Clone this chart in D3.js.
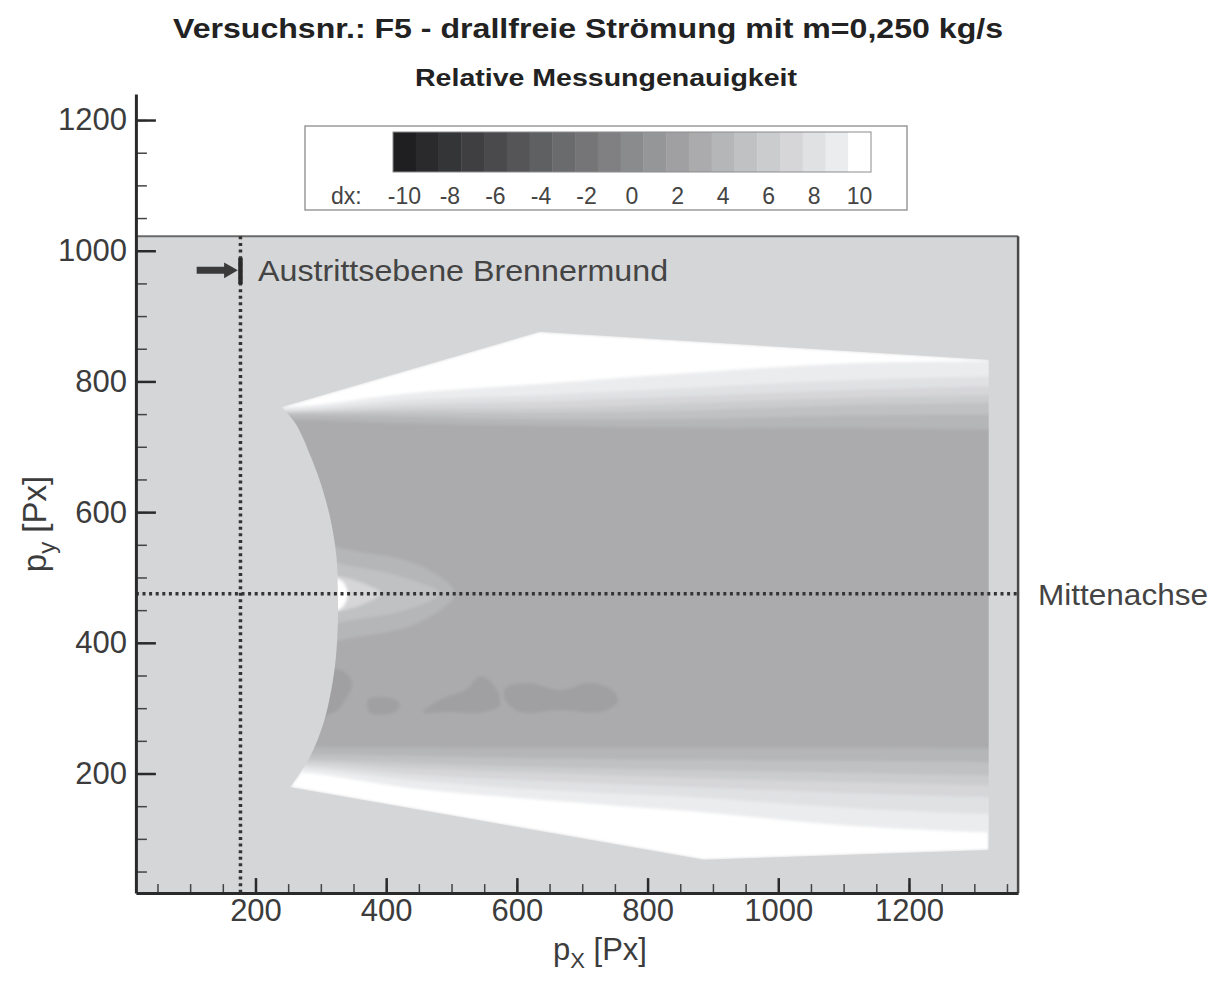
<!DOCTYPE html>
<html>
<head>
<meta charset="utf-8">
<script src="https://cdn.jsdelivr.net/npm/d3@7"></script>
<style>
  body { margin: 0; background: #fff; }
  text { font-family: Arial, "Liberation Sans", sans-serif; }
</style>
</head>
<body>
<svg id="chart" width="1218" height="983"></svg>
<script>
var xTicks = [200, 400, 600, 800, 1000, 1200];
var yTicks = [200, 400, 600, 800, 1000, 1200];
var minorTicksX = d3.range(50, 1400, 50);
var minorTicksY = d3.range(50, 1250, 50);
var legendLevels = d3.range(-10, 11);
var legendTicks = [-10, -8, -6, -4, -2, 0, 2, 4, 6, 8, 10];

// outline of measured region (straight part) and the curved window edge
var envX = [240, 635, 1322, 1322, 886, 253];
var envY = [761, 876, 833, 83, 68, 179];
var arcX = [253, 283, 304, 316, 323, 326, 326, 324, 316, 303, 285, 261, 240];
var arcY = [179, 225, 277, 328, 378, 430, 481, 531, 583, 634, 684, 736, 761];

// contour bands: upper and lower limits of each level, sampled at bandX
var bandX = [115, 268, 436, 635, 880, 1110, 1340];
var bandLevels = [9, 8, 7, 6, 5, 4, 3];
var bandTop = [
  [759, 762, 782, 796, 814, 828, 831],
  [756, 758, 772, 779, 791, 802, 808],
  [753, 755, 764, 769, 778, 787, 793],
  [752, 753, 758, 759, 767, 775, 779],
  [750, 752, 753, 752, 756, 764, 767],
  [747, 748, 746, 742, 743, 748, 749],
  [741, 741, 736, 732, 729, 729, 726]];
var bandBottom = [
  [202, 202, 178, 160, 141, 120, 109],
  [208, 208, 190, 175, 163, 147, 137],
  [213, 213, 199, 189, 179, 170, 163],
  [218, 218, 208, 201, 193, 187, 181],
  [222, 222, 216, 210, 205, 201, 196],
  [230, 230, 227, 223, 221, 219, 217],
  [240, 240, 240, 239, 239, 239, 238]];

// light core on the axis behind the window
var fishLevels = [4, 5, 7, 10];
var fishX = [
  [268, 360, 452, 505, 452, 360, 268],
  [268, 360, 436, 482, 436, 360, 268],
  [268, 335, 372, 392, 372, 335, 268],
  [268, 330, 341, 330, 268]];
var fishY = [
  [545, 539, 518, 476, 432, 410, 404],
  [522, 515, 497, 476, 452, 437, 430],
  [505, 500, 488, 476, 462, 450, 445],
  [500, 496, 475, 452, 448]];

// darker spots below the axis
var blobLevel = 2;
var blobX = [
  [296, 337, 348, 337, 322, 296],
  [372, 398, 421, 414, 375],
  [456, 482, 521, 544, 566, 574, 544, 498],
  [582, 620, 666, 712, 746, 755, 727, 666, 605, 582]];
var blobY = [
  [358, 355, 335, 312, 294, 290],
  [313, 317, 308, 294, 293],
  [294, 313, 328, 349, 334, 305, 293, 294],
  [331, 338, 328, 339, 328, 310, 294, 297, 294, 313]];

var centerAxisY = 475;
var exitPlaneX = 177;

// ---- setup ----
var svg = d3.select("#chart");

var x = d3.scaleLinear().domain([17, 1367]).range([135.9, 1018.1]);
var y = d3.scaleLinear().domain([17, 1240]).range([893.1, 93.9]);
var frameTop = 1022;

var color = d3.scaleLinear()
  .domain([-10, 9, 10])
  .range(["#1f1f21", "#ebecee", "#ffffff"]);

var smoothLine = d3.line().x(d => x(d[0])).y(d => y(d[1])).curve(d3.curveCatmullRom.alpha(0.5));
var straightLine = d3.line().x(d => x(d[0])).y(d => y(d[1]));
var closedLine = d3.line().x(d => x(d[0])).y(d => y(d[1])).curve(d3.curveCatmullRomClosed.alpha(0.5));

function joinPaths(a, b) {
  return a + "L" + b.slice(1) + "Z";
}
function zip(xs, ys) {
  return xs.map((v, i) => [v, ys[i]]);
}

var defs = svg.append("defs");
var envPath = joinPaths(straightLine(zip(envX, envY)), smoothLine(zip(arcX, arcY)));
defs.append("clipPath").attr("id", "env").append("path").attr("d", envPath);
defs.append("filter").attr("id", "soft")
  .attr("x", "-5%").attr("y", "-5%").attr("width", "110%").attr("height", "110%")
  .append("feGaussianBlur").attr("stdDeviation", 1.4);

// frame background
svg.append("rect")
  .attr("x", x(17)).attr("y", y(frameTop))
  .attr("width", x(1367) - x(17)).attr("height", y(17) - y(frameTop))
  .style("fill", "#d5d6d8");

// contour field
var field = svg.append("g").attr("clip-path", "url(#env)")
  .append("g").attr("filter", "url(#soft)");

field.append("path").attr("d", envPath).style("fill", color(10));

bandLevels.forEach((lev, k) => {
  var upper = zip(bandX, bandTop[k]);
  var lower = zip(bandX, bandBottom[k]).reverse();
  field.append("path")
    .attr("d", joinPaths(smoothLine(upper), smoothLine(lower)))
    .style("fill", color(lev));
});

fishLevels.forEach((lev, k) => {
  field.append("path")
    .attr("d", closedLine(zip(fishX[k], fishY[k])))
    .style("fill", color(lev));
});

blobX.forEach((bx, k) => {
  field.append("path")
    .attr("d", closedLine(zip(bx, blobY[k])))
    .style("fill", color(blobLevel));
});

// frame lines top / right
svg.append("line")
  .attr("x1", x(17)).attr("x2", x(1367)).attr("y1", y(frameTop)).attr("y2", y(frameTop))
  .style("stroke", "#6a6a6a").style("stroke-width", 2);
svg.append("line")
  .attr("x1", x(1367)).attr("x2", x(1367)).attr("y1", y(frameTop)).attr("y2", y(17))
  .style("stroke", "#4a4a4a").style("stroke-width", 2.5);

// dotted guide lines
svg.append("line")
  .attr("x1", x(exitPlaneX)).attr("x2", x(exitPlaneX))
  .attr("y1", y(frameTop)).attr("y2", y(17))
  .style("stroke", "#333").style("stroke-width", 3.5).style("stroke-dasharray", "3,3.6");
svg.append("line")
  .attr("x1", x(17)).attr("x2", x(1367))
  .attr("y1", y(centerAxisY)).attr("y2", y(centerAxisY))
  .style("stroke", "#333").style("stroke-width", 3.5).style("stroke-dasharray", "3,3.6");

// axes
var fmt = d3.format("d");
var gx = svg.append("g").attr("transform", `translate(0,${y(17)})`);
gx.call(d3.axisBottom(x).tickValues(minorTicksX).tickSizeInner(-9).tickSizeOuter(0).tickFormat(""));
gx.selectAll("line").style("stroke", "#444").style("stroke-width", 1.5);
gx.select(".domain").remove();
var gx2 = svg.append("g").attr("transform", `translate(0,${y(17)})`);
gx2.call(d3.axisBottom(x).tickValues(xTicks).tickFormat(fmt).tickSizeInner(-15).tickSizeOuter(0).tickPadding(6));
gx2.selectAll("line").style("stroke", "#2a2a2a").style("stroke-width", 2.5);
gx2.select(".domain").style("stroke", "#2a2a2a").style("stroke-width", 3);
gx2.selectAll("text").style("font-size", "31px").style("fill", "#3c3c3c")
  .style("font-family", "Arial, Liberation Sans, sans-serif");

var gy = svg.append("g").attr("transform", `translate(${x(17)},0)`);
gy.call(d3.axisLeft(y).tickValues(minorTicksY).tickSizeInner(-11).tickSizeOuter(0).tickFormat(""));
gy.selectAll("line").style("stroke", "#444").style("stroke-width", 1.5);
gy.select(".domain").remove();
var gy2 = svg.append("g").attr("transform", `translate(${x(17)},0)`);
gy2.call(d3.axisLeft(y).tickValues(yTicks).tickFormat(fmt).tickSizeInner(-20).tickSizeOuter(0).tickPadding(9));
gy2.selectAll("line").style("stroke", "#2a2a2a").style("stroke-width", 2.5);
gy2.select(".domain").style("stroke", "#2a2a2a").style("stroke-width", 3);
gy2.selectAll("text").style("font-size", "31px").style("fill", "#3c3c3c")
  .style("font-family", "Arial, Liberation Sans, sans-serif");

// axis titles
var xt = svg.append("text").attr("x", 600).attr("y", 960)
  .attr("text-anchor", "middle").style("font-size", "31px").style("fill", "#3c3c3c");
xt.append("tspan").text("p");
xt.append("tspan").attr("dy", 8).style("font-size", "22px").text("X");
xt.append("tspan").attr("dy", -8).text(" [Px]");

var yt = svg.append("text").attr("transform", "translate(46,524) rotate(-90)")
  .attr("text-anchor", "middle").style("font-size", "33px").style("fill", "#3c3c3c");
yt.append("tspan").text("p");
yt.append("tspan").attr("dy", 9).style("font-size", "24px").text("y");
yt.append("tspan").attr("dy", -9).text(" [Px]");

// annotation: exit plane
svg.append("line")
  .attr("x1", x(110)).attr("x2", x(158)).attr("y1", y(970)).attr("y2", y(970))
  .style("stroke", "#3a3a3a").style("stroke-width", 7);
svg.append("path")
  .attr("d", straightLine([[152, 982], [173, 970], [152, 958]]) + "Z")
  .style("fill", "#3a3a3a");
svg.append("line")
  .attr("x1", x(exitPlaneX)).attr("x2", x(exitPlaneX)).attr("y1", y(989)).attr("y2", y(949))
  .style("stroke", "#2a2a2a").style("stroke-width", 4.5);
svg.append("text").attr("x", x(204)).attr("y", y(954))
  .style("font-size", "29px").style("fill", "#444")
  .attr("textLength", 410).attr("lengthAdjust", "spacingAndGlyphs")
  .text("Austrittsebene Brennermund");

svg.append("text").attr("x", 1038).attr("y", y(centerAxisY) + 11)
  .style("font-size", "30px").style("fill", "#444")
  .attr("textLength", 170).attr("lengthAdjust", "spacingAndGlyphs")
  .text("Mittenachse");

// titles
svg.append("text").attr("x", 588).attr("y", 38).attr("text-anchor", "middle")
  .style("font-size", "28px").style("font-weight", "bold").style("fill", "#222")
  .attr("textLength", 830).attr("lengthAdjust", "spacingAndGlyphs")
  .text("Versuchsnr.: F5 - drallfreie Strömung mit m=0,250 kg/s");
svg.append("text").attr("x", 606).attr("y", 86).attr("text-anchor", "middle")
  .style("font-size", "23px").style("font-weight", "bold").style("fill", "#222")
  .attr("textLength", 382).attr("lengthAdjust", "spacingAndGlyphs")
  .text("Relative Messungenauigkeit");

// legend
var legend = svg.append("g");
legend.append("rect").attr("x", 305).attr("y", 126).attr("width", 602).attr("height", 84)
  .style("fill", "#fff").style("stroke", "#9a9a9a").style("stroke-width", 1.5);
var lx = d3.scaleLinear().domain([-10.5, 10.5]).range([393, 871]);
legend.selectAll(".cell").data(legendLevels).enter().append("rect")
  .attr("x", d => lx(d - 0.5)).attr("y", 132)
  .attr("width", lx(1) - lx(0) + 0.4).attr("height", 40)
  .style("fill", d => color(d));
legend.append("rect").attr("x", lx(-10.5)).attr("y", 132)
  .attr("width", lx(10.5) - lx(-10.5)).attr("height", 40)
  .style("fill", "none").style("stroke", "#8c8c8c").style("stroke-width", 1);
legend.selectAll(".lab").data(legendTicks).enter().append("text")
  .attr("x", d => lx(d)).attr("y", 204).attr("text-anchor", "middle")
  .style("font-size", "23px").style("fill", "#444")
  .text(d => d);
legend.append("text").attr("x", 331).attr("y", 204)
  .style("font-size", "23px").style("fill", "#444").text("dx:");
</script>
</body>
</html>
